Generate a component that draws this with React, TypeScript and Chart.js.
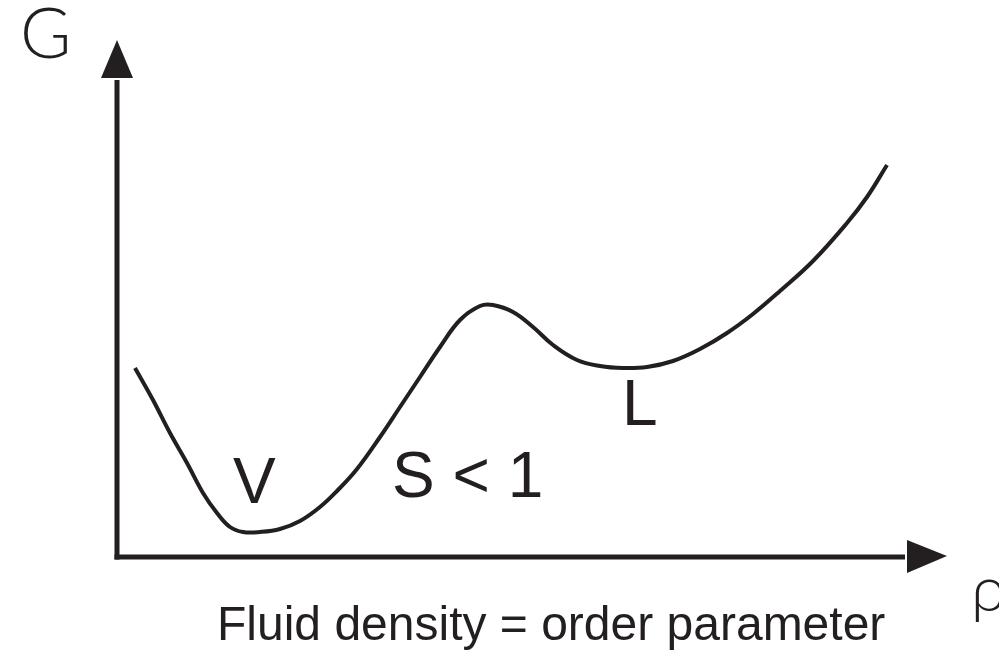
import React, { useEffect, useRef } from "react";
import { Chart, registerables } from "chart.js";

Chart.register(...registerables);

// Fluid density (rho) and free energy (G) (arbitrary units)
const rho = [0.18, 0.36, 0.53, 0.7, 0.86, 1.0, 1.13, 1.26, 1.43, 1.63, 1.83, 2.03, 2.2, 2.4, 2.63, 2.83, 3.03, 3.23, 3.43, 3.63, 3.76, 3.96, 4.16, 4.36, 4.6, 4.83, 5.06, 5.3, 5.56, 5.83, 6.1, 6.36, 6.63, 6.96, 7.3, 7.5, 7.7];
const G = [1.89, 1.57, 1.24, 0.94, 0.64, 0.44, 0.3, 0.25, 0.25, 0.28, 0.36, 0.5, 0.66, 0.88, 1.2, 1.5, 1.8, 2.1, 2.37, 2.51, 2.52, 2.45, 2.3, 2.12, 1.97, 1.91, 1.89, 1.9, 1.96, 2.08, 2.24, 2.43, 2.66, 2.96, 3.34, 3.6, 3.92];

// Curve labels: text and anchor in data units
const labelTexts = ["V", "S < 1", "L"];
const labelRho = [1.16, 2.75, 5.05];
const labelG = [0.54, 0.6, 1.32];

const yAxisTitle = "G";
const xAxisTitle = "ρ";
const xAxisCaption = "Fluid density = order parameter";

const INK = "#231f20";

const axesPlugin = {
  id: "schematicAxes",
  afterDraw(chart: any) {
    const { ctx } = chart;
    const xs = chart.scales.x;
    const ys = chart.scales.y;
    const ox = xs.getPixelForValue(0);
    const oy = ys.getPixelForValue(0);
    ctx.save();
    ctx.strokeStyle = INK;
    ctx.fillStyle = INK;
    ctx.lineWidth = 5;
    ctx.lineCap = "butt";
    // y axis
    const yTip = ys.getPixelForValue(5.17);
    const yBase = ys.getPixelForValue(4.79);
    ctx.beginPath();
    ctx.moveTo(ox, oy + 2.5);
    ctx.lineTo(ox, yBase + 2);
    ctx.stroke();
    ctx.beginPath();
    ctx.moveTo(ox, yTip);
    ctx.lineTo(ox - 16, yBase);
    ctx.lineTo(ox + 16, yBase);
    ctx.closePath();
    ctx.fill();
    // x axis
    const xTip = xs.getPixelForValue(8.3);
    const xBase = xs.getPixelForValue(7.9);
    ctx.beginPath();
    ctx.moveTo(ox - 2.5, oy);
    ctx.lineTo(xBase - 2, oy);
    ctx.stroke();
    ctx.beginPath();
    ctx.moveTo(xTip, oy - 1);
    ctx.lineTo(xBase, oy - 17);
    ctx.lineTo(xBase, oy + 16);
    ctx.closePath();
    ctx.fill();

    // texts
    ctx.textBaseline = "alphabetic";
    ctx.textAlign = "left";
    ctx.font = "300 70px Lato";
    ctx.fillText(yAxisTitle, xs.getPixelForValue(-0.97), ys.getPixelForValue(4.99));
    ctx.font = "300 64px Lato";
    ctx.fillText(xAxisTitle, xs.getPixelForValue(8.54), ys.getPixelForValue(-0.54));
    ctx.font = "48px 'Liberation Sans', Arial, sans-serif";
    ctx.fillText(xAxisCaption, xs.getPixelForValue(1.0), ys.getPixelForValue(-0.83));
    ctx.font = "64px 'Liberation Sans', Arial, sans-serif";
    for (let i = 0; i < labelTexts.length; i++) {
      ctx.fillText(labelTexts[i], xs.getPixelForValue(labelRho[i]), ys.getPixelForValue(labelG[i]));
    }
    ctx.restore();
  },
};

export default function App() {
  const ref = useRef<HTMLCanvasElement | null>(null);
  useEffect(() => {
    if (!ref.current) return;
    const chart = new Chart(ref.current, {
      type: "line",
      data: {
        datasets: [
          {
            data: rho.map((r, i) => ({ x: r, y: G[i] })),
            borderColor: INK,
            borderWidth: 4,
            pointRadius: 0,
            tension: 0.4,
            fill: false,
          },
        ],
      },
      options: {
        animation: false,
        responsive: false,
        maintainAspectRatio: false,
        layout: { padding: 0 },
        plugins: { legend: { display: false }, tooltip: { enabled: false } },
        scales: {
          x: { type: "linear", display: false, min: -1.17, max: 8.82 },
          y: { type: "linear", display: false, min: -0.94, max: 5.57 },
        },
      },
      plugins: [axesPlugin],
    });
    return () => chart.destroy();
  }, []);
  return (
    <div style={{ position: "fixed", left: 0, top: 0, width: 999, height: 651, background: "#fff" }}>
      <canvas ref={ref} width={999} height={651} style={{ display: "block", width: 999, height: 651 }} />
    </div>
  );
}
